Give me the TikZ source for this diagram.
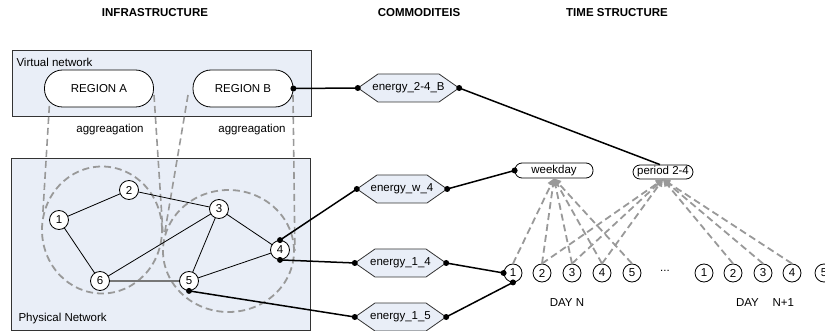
\documentclass[tikz,border=0pt]{standalone}
\usepackage{fontspec}
\setmainfont{Liberation Sans}
\usetikzlibrary{arrows.meta,shapes.geometric}
\definecolor{boxblue}{HTML}{E9EEF7}
\definecolor{dgray}{HTML}{999999}
\definecolor{edgegray}{HTML}{777777}
\newcommand\hexnode[5]{%
  \path[hexshape] (#2-#4,#3) -- (#2-#4+20,#3-14) -- (#2+#4-20,#3-14) -- (#2+#4,#3) -- (#2+#4-20,#3+14) -- (#2-#4+20,#3+14) -- cycle;
  \node[hextext, minimum width={2*#4 pt}] (#1) at (#2,#3) {#5};}
\begin{document}
\begin{tikzpicture}[x=1pt,y=-1pt,
  every node/.style={font=\fontsize{11.5}{13}\selectfont},
  title/.style={font=\fontsize{11.5}{13}\selectfont\bfseries},
  panel/.style={draw=black!80, fill=boxblue, line width=0.8pt},
  capsule/.style={draw=black, fill=white, line width=0.8pt, rounded corners=18pt, minimum height=37pt, inner sep=0pt},
  smallcap/.style={draw=black, fill=white, line width=0.8pt, rounded corners=7pt, minimum height=15pt, inner sep=0pt},
  pnode/.style={circle, draw=black, fill=white, line width=0.8pt, minimum size=19pt, inner sep=0pt},
  tnode/.style={circle, draw=black, fill=white, line width=0.8pt, minimum size=18pt, inner sep=0pt},
  dring/.style={ellipse, draw=dgray, line width=1.8pt, dash pattern=on 7pt off 4pt, inner sep=0pt},
  aggline/.style={draw=dgray, line width=1.6pt, dash pattern=on 7pt off 4pt},
  tarrow/.style={draw=dgray, line width=1.8pt, dash pattern=on 7pt off 4pt, -{Triangle[length=7pt,width=7pt]}},
  pedge/.style={draw=black, line width=0.8pt},
  gedge/.style={draw=edgegray, line width=1.6pt},
  conn/.style={draw=black, line width=1.5pt},
  hexshape/.style={draw=black!80, fill=boxblue, line width=0.8pt},
  hextext/.style={minimum height=28pt, inner sep=0pt},
  ]
\useasboundingbox (0,0) rectangle (825,331);

% titles
\node[title] (t1) at (155,13) {INFRASTRUCTURE};
\node[title] (t2) at (419,13) {COMMODITEIS};
\node[title] (t3) at (617,13) {TIME STRUCTURE};

% panels
\path[panel] (12,50) rectangle (311,116);
\path[panel] (11,158) rectangle (310,330);
\node[anchor=west] (vlab) at (13,62) {Virtual network};
\node[anchor=west] (plab) at (15,319) {Physical Network};
\node (ag1) at (110,130) {aggreagation};
\node (ag2) at (252,130) {aggreagation};

% aggregation circles
\node[dring, minimum width=120pt, minimum height=127pt] (ca) at (102,230) {};
\node[dring, minimum width=131pt, minimum height=122pt] (cb) at (228.5,251) {};

% aggregation dashed lines
\coordinate (ra1) at (50,95);
\coordinate (ra2) at (154,95);
\coordinate (rb1) at (188,95);
\coordinate (rb2) at (293,95);
\draw[aggline] (ra1) -- (ca.166);
\draw[aggline] (ra2) -- (ca.-2);
\draw[aggline] (rb1) -- (cb.166);
\draw[aggline] (rb2) -- (cb.0);

% regions
\node[capsule, minimum width=109pt] (ra) at (99,88.5) {REGION A};
\node[capsule, minimum width=100pt] (rb) at (243,88.5) {REGION B};

% physical network
\coordinate (p1) at (59,220);
\coordinate (p2) at (129,190);
\coordinate (p3) at (219,209);
\coordinate (p4) at (280,250);
\coordinate (p5) at (189,281);
\coordinate (p6) at (100,281);
\draw[pedge] (p1) -- (p2);
\draw[pedge] (p1) -- (p6);
\draw[pedge] (p2) -- (p3);
\draw[pedge] (p3) -- (p6);
\draw[pedge] (p3) -- (p5);
\draw[pedge] (p3) -- (p4);
\draw[pedge] (p5) -- (p4);
\draw[gedge] (p6) -- (p5);
\node[pnode] (n1) at (p1) {1};
\node[pnode] (n2) at (p2) {2};
\node[pnode] (n3) at (p3) {3};
\node[pnode] (n4) at (p4) {4};
\node[pnode] (n5) at (p5) {5};
\node[pnode] (n6) at (p6) {6};

% commodities
\hexnode{e24b}{408.5}{88}{50.5}{energy\_2-4\_B}
\hexnode{ew4}{402}{189}{45}{energy\_w\_4}
\hexnode{e14}{400.5}{263}{45.5}{energy\_1\_4}
\hexnode{e15}{400.5}{317}{45.5}{energy\_1\_5}

% time structure
\node[smallcap, minimum width=78pt] (wk) at (554,170.5) {weekday};
\node[smallcap, minimum width=60pt, minimum height=14pt] (p24) at (663,172) {period 2-4};

\foreach \i/\x in {1/513,2/542,3/572,4/602,5/632}
  \node[tnode] (d\i) at (\x,273) {\i};
\foreach \i/\x in {1/704,2/733,3/763,4/792,5/824}
  \node[tnode] (e\i) at (\x,273) {\i};
\node (dots) at (665,271) {...};
\node (dayn) at (567,303) {DAY N};
\node (dayn1) at (765,303) {DAY\hspace{1.2em}N+1};

% time arrows
\foreach \i in {1,...,5}
  \draw[tarrow] (d\i.north) -- (wk.south);
\foreach \i in {2,3,4}
  \draw[tarrow] (d\i.north) -- (p24.south);
\foreach \i in {2,3,4}
  \draw[tarrow] (e\i.north) -- (p24.south);

% connectors
\draw[conn] (rb.east) -- (e24b.west);
\draw[conn] (e24b.east) -- ([xshift=-3pt]p24.north);
\draw[conn] (n4.north) -- (ew4.west);
\draw[conn] (ew4.east) -- (wk.west);
\draw[conn] (n4.south) -- (e14.west);
\draw[conn] (e14.east) -- (d1.west);
\draw[conn] (n5.south) -- (e15.west);
\draw[conn] (e15.east) -- (d1.south);

% connector dots
\foreach \p in {rb.east,e24b.west,e24b.east,n4.north,ew4.west,ew4.east,wk.west,n4.south,e14.west,e14.east,d1.west,n5.south,e15.west,e15.east,d1.south}
  \fill[black] (\p) circle[radius=3pt];
\end{tikzpicture}
\end{document}
